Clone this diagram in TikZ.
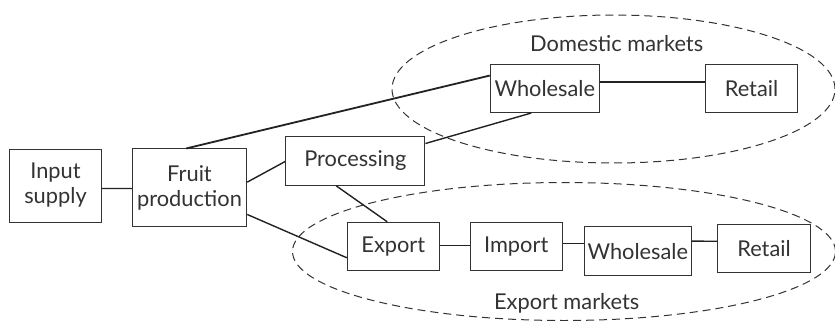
\documentclass[tikz,border=0pt]{standalone}
\usepackage{fontspec}
\setmainfont{Lato}
\begin{document}
\begin{tikzpicture}[x=1pt,y=-1pt,
  box/.style={draw=boxgray,line width=1pt,minimum width=#1,minimum height=48.5pt,inner sep=0pt,align=center,font=\fontsize{21.8}{25}\selectfont,text=textgray},
  box/.default=92pt,
  conn/.style={line width=1.4pt,draw=linegray},
  mkt/.style={dashed,dash pattern=on 8pt off 5pt,line width=1pt,draw=boxgray},
  lbl/.style={font=\fontsize{21.8}{25}\selectfont,text=textgray,inner sep=0pt}]
\definecolor{boxgray}{HTML}{333333}
\definecolor{linegray}{HTML}{222222}
\definecolor{textgray}{HTML}{333333}
\useasboundingbox[fill=white] (0,0) rectangle (835,321);
% market ellipses
\draw[mkt] (613.5,89) ellipse [x radius=221.5pt, y radius=74pt];
\draw[mkt] (564,251.5) ellipse [x radius=271.5pt, y radius=69pt];
\node[lbl] (dlbl) at (616.7,43.3) {Domestic markets};
\node[lbl] (elbl) at (566.7,303.3) {Export markets};
% boxes
\node[box=92.4pt,minimum height=73pt] (input) at (55.5,185.5) {Input\\supply};
\node[box=114.4pt,minimum height=77.7pt] (fruit) at (189.5,187.8) {Fruit\\production};
\node[box=139.3pt,minimum height=48.6pt] (proc) at (355.3,161) {Processing};
\node[box=109pt] (dwh) at (544.8,88.3) {Wholesale};
\node[box=92.4pt] (dret) at (751.5,88.3) {Retail};
\node[box=92pt] (exp) at (393.3,246.5) {Export};
\node[box=92.3pt] (imp) at (516.2,246.5) {Import};
\node[box=107pt] (ewh) at (637.8,251.2) {Wholesale};
\node[box=92.6pt] (eret) at (764,248.3) {Retail};
% connectors
\draw[conn] ([yshift=-40pt]input.north east) -- ([yshift=-40pt]fruit.north west);
\draw[conn,line width=1.8pt] ([xshift=54.4pt]fruit.north west) -- ([yshift=-12pt]dwh.north west);
\draw[conn] ([yshift=-33.7pt]fruit.north east) -- ([yshift=-25.3pt]proc.north west);
\draw[conn] ([yshift=-66pt]fruit.north east) -- ([yshift=-36pt]exp.north west);
\draw[conn] ([xshift=51pt]proc.south west) -- ([xshift=40.4pt]exp.north west);
\draw[conn] ([yshift=-7.3pt]proc.north east) -- ([xshift=41.4pt]dwh.south west);
\draw[conn] ([yshift=-18.3pt]dwh.north east) -- ([yshift=-18.3pt]dret.north west);
\draw[conn] ([yshift=-24pt]exp.north east) -- ([yshift=-24pt]imp.north west);
\draw[conn] ([yshift=-22pt]imp.north east) -- ([yshift=-17.3pt]ewh.north west);
\draw[conn] ([yshift=-14.7pt]ewh.north east) -- ([yshift=-17.7pt]eret.north west);
\end{tikzpicture}
\end{document}
